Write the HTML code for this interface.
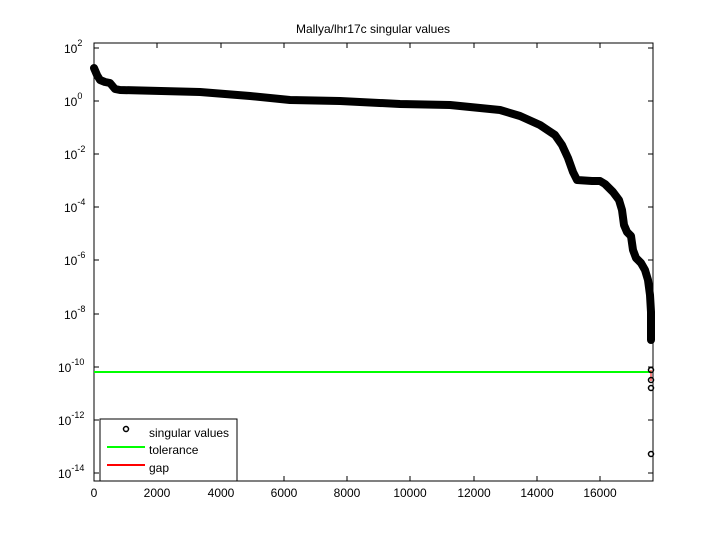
<!DOCTYPE html>
<html><head><style>body{margin:0;background:#fff}svg{display:block}</style></head><body>
<svg width="720" height="540" xmlns="http://www.w3.org/2000/svg" font-family="Liberation Sans, sans-serif" font-size="12">
<rect width="720" height="540" fill="#fff"/>
<text x="373" y="33" text-anchor="middle" font-size="12">Mallya/lhr17c singular values</text>
<rect x="94" y="43" width="559" height="438" fill="none" stroke="#000" stroke-width="1"/>
<g stroke="#000">
<line x1="94" y1="48" x2="99" y2="48"/><line x1="653" y1="48" x2="648" y2="48"/>
<line x1="94" y1="101" x2="99" y2="101"/><line x1="653" y1="101" x2="648" y2="101"/>
<line x1="94" y1="154" x2="99" y2="154"/><line x1="653" y1="154" x2="648" y2="154"/>
<line x1="94" y1="207" x2="99" y2="207"/><line x1="653" y1="207" x2="648" y2="207"/>
<line x1="94" y1="260" x2="99" y2="260"/><line x1="653" y1="260" x2="648" y2="260"/>
<line x1="94" y1="314" x2="99" y2="314"/><line x1="653" y1="314" x2="648" y2="314"/>
<line x1="94" y1="367" x2="99" y2="367"/><line x1="653" y1="367" x2="648" y2="367"/>
<line x1="94" y1="420" x2="99" y2="420"/><line x1="653" y1="420" x2="648" y2="420"/>
<line x1="94" y1="473" x2="99" y2="473"/><line x1="653" y1="473" x2="648" y2="473"/>
<line x1="157" y1="481" x2="157" y2="476"/><line x1="157" y1="43" x2="157" y2="48"/>
<line x1="221" y1="481" x2="221" y2="476"/><line x1="221" y1="43" x2="221" y2="48"/>
<line x1="284" y1="481" x2="284" y2="476"/><line x1="284" y1="43" x2="284" y2="48"/>
<line x1="347" y1="481" x2="347" y2="476"/><line x1="347" y1="43" x2="347" y2="48"/>
<line x1="410" y1="481" x2="410" y2="476"/><line x1="410" y1="43" x2="410" y2="48"/>
<line x1="474" y1="481" x2="474" y2="476"/><line x1="474" y1="43" x2="474" y2="48"/>
<line x1="537" y1="481" x2="537" y2="476"/><line x1="537" y1="43" x2="537" y2="48"/>
<line x1="600" y1="481" x2="600" y2="476"/><line x1="600" y1="43" x2="600" y2="48"/>
</g>
<g text-anchor="middle">
<text x="94" y="497">0</text><text x="157" y="497">2000</text><text x="221" y="497">4000</text>
<text x="284" y="497">6000</text><text x="347" y="497">8000</text><text x="410" y="497">10000</text>
<text x="474" y="497">12000</text><text x="537" y="497">14000</text><text x="600" y="497">16000</text>
</g>
<g font-size="12">
<text x="64" y="53">10<tspan dy="-7" font-size="9">2</tspan></text>
<text x="64" y="106">10<tspan dy="-7" font-size="9">0</tspan></text>
<text x="64" y="159">10<tspan dy="-7" font-size="9">-2</tspan></text>
<text x="64" y="212">10<tspan dy="-7" font-size="9">-4</tspan></text>
<text x="64" y="265">10<tspan dy="-7" font-size="9">-6</tspan></text>
<text x="64" y="319">10<tspan dy="-7" font-size="9">-8</tspan></text>
<text x="58" y="372">10<tspan dy="-7" font-size="9">-10</tspan></text>
<text x="58" y="425">10<tspan dy="-7" font-size="9">-12</tspan></text>
<text x="58" y="478">10<tspan dy="-7" font-size="9">-14</tspan></text>
</g>
<line x1="94" y1="372" x2="651" y2="372" stroke="#00ff00" stroke-width="2"/>
<line x1="651" y1="370" x2="651" y2="381" stroke="#ff0000" stroke-width="1"/>
<polyline fill="none" stroke="#000" stroke-width="8" stroke-linejoin="round" stroke-linecap="round"
points="94,68 97,75 100,80 105,82 110,83 115,89 120,90 200,92 250,96 290,100 340,101 400,104 450,105 500,110 520,116 540,125 555,135 562,145 568,158 573,172 577,180 592,181 600,181 605,184 613,192 619,200 622,210 624,225 627,232 631,236 633,250 636,258 641,263 645,270 648,280 650,295 651,312 651,340"/>
<g fill="none" stroke="#000" stroke-width="1.5">
<circle cx="651" cy="370" r="2.5"/><circle cx="651" cy="380" r="2.5"/><circle cx="651" cy="388" r="2.5"/><circle cx="651" cy="454" r="2.5"/>
</g>
<rect x="100" y="419" width="137" height="62" fill="#fff" stroke="#000"/>
<circle cx="126" cy="429" r="2.5" fill="none" stroke="#000" stroke-width="1.5"/>
<text x="149" y="437">singular values</text>
<line x1="107" y1="447" x2="145" y2="447" stroke="#00ff00" stroke-width="2"/>
<text x="149" y="454">tolerance</text>
<line x1="107" y1="465" x2="145" y2="465" stroke="#ff0000" stroke-width="2"/>
<text x="149" y="472">gap</text>
</svg>
</body></html>
